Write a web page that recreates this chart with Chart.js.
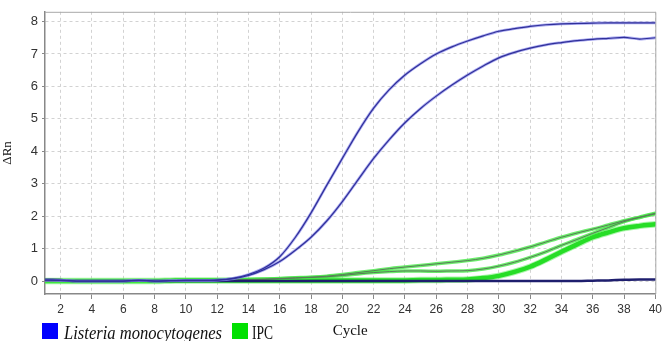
<!DOCTYPE html>
<html><head><meta charset="utf-8">
<script src="https://cdn.jsdelivr.net/npm/chart.js@4/dist/chart.umd.min.js"></script>
<style>
html,body{margin:0;padding:0;background:#fff;}
#wrap{position:relative;width:665px;height:341px;overflow:hidden;}
canvas{position:absolute;left:0;top:0;}
.leg{position:absolute;font-family:'Liberation Serif','Times New Roman',serif;font-size:18px;line-height:18px;color:#111;white-space:nowrap;transform-origin:0 0;}
.sw{position:absolute;}
</style></head><body>
<div id="wrap"><canvas id="c" width="665" height="341"></canvas>
<div class="sw" style="left:42px;top:323px;width:16px;height:16px;background:#0000ff"></div>
<div class="leg" id="l1" style="left:64px;top:324px;font-style:italic">Listeria monocytogenes</div>
<div class="sw" style="left:232px;top:323px;width:16px;height:16px;background:#00e000"></div>
<div class="leg" id="l2" style="left:252px;top:324px">IPC</div>
</div>
<script>
const cycles = [1,2,3,4,5,6,7,8,9,10,11,12,13,14,15,16,17,18,19,20,21,22,23,24,25,26,27,28,29,30,31,32,33,34,35,36,37,38,39,40];
const xTicks = [2,4,6,8,10,12,14,16,18,20,22,24,26,28,30,32,34,36,38,40];
const yTicks = [0,1,2,3,4,5,6,7,8];
const seriesNames = ['Listeria monocytogenes','IPC'];

const listeriaA = [0.03,0.02,0.0,0.0,0.0,0.0,0.02,0.0,0.01,0.02,0.02,0.03,0.08,0.2,0.4,0.75,1.35,2.1,2.95,3.78,4.6,5.33,5.9,6.35,6.7,7.0,7.22,7.4,7.56,7.7,7.78,7.85,7.9,7.93,7.94,7.95,7.96,7.96,7.96,7.96];
const listeriaB = [0.03,0.02,0.0,0.0,0.0,0.0,0.02,0.0,0.01,0.02,0.02,0.03,0.07,0.17,0.35,0.6,0.95,1.35,1.85,2.45,3.12,3.78,4.36,4.88,5.32,5.7,6.04,6.35,6.63,6.88,7.05,7.18,7.28,7.35,7.41,7.45,7.48,7.51,7.46,7.5];
const listeriaNeg = [0.04,0.03,0.0,0.0,0.0,0.0,0.02,0.0,0.0,0.0,0.0,0.0,0.0,0.0,0.0,0.0,0.0,0.0,0.0,0.0,0.0,0.0,0.0,0.0,0.0,0.0,0.0,0.0,0.0,0.0,0.0,0.0,0.0,0.0,0.0,0.01,0.02,0.04,0.05,0.05];
const ipcA = [0.0,0.0,0.0,0.0,0.0,0.0,0.0,0.0,0.0,0.0,0.01,0.02,0.03,0.05,0.06,0.08,0.1,0.12,0.15,0.2,0.26,0.32,0.38,0.43,0.48,0.53,0.58,0.63,0.7,0.8,0.92,1.05,1.2,1.35,1.48,1.6,1.73,1.86,1.97,2.09];
const ipcB = [0.0,0.0,0.0,0.0,0.0,0.0,0.0,0.0,0.0,0.01,0.01,0.01,0.02,0.04,0.05,0.07,0.09,0.11,0.13,0.17,0.22,0.26,0.29,0.31,0.31,0.3,0.31,0.32,0.37,0.46,0.58,0.73,0.9,1.1,1.28,1.47,1.65,1.83,1.96,2.07];
const ipcC = [0.0,0.0,0.0,0.0,0.0,0.0,0.0,0.0,0.01,0.02,0.02,0.02,0.02,0.02,0.02,0.02,0.02,0.02,0.02,0.02,0.02,0.02,0.02,0.02,0.03,0.03,0.04,0.05,0.09,0.16,0.28,0.44,0.66,0.9,1.13,1.35,1.5,1.63,1.7,1.75];

const pts = arr => cycles.map((c, i) => ({x: c, y: arr[i]}));
const line = (label, arr, color, width) => ({
  label, data: pts(arr), borderColor: color, backgroundColor: color, borderWidth: width,
  pointRadius: 0, fill: false, cubicInterpolationMode: 'monotone', borderCapStyle: 'round', borderJoinStyle: 'round'
});

// listed top-most first (Chart.js draws the first dataset on top)
const datasets = [
  line(seriesNames[0], listeriaA, '#30309a', 1.2),
  line(seriesNames[0], listeriaB, '#30309a', 1.2),
  line(seriesNames[0], listeriaA, 'rgba(125,125,232,0.65)', 2.8),
  line(seriesNames[0], listeriaB, 'rgba(125,125,232,0.65)', 2.8),
  line(seriesNames[0], listeriaNeg, '#1e1e6e', 2.5),
  line(seriesNames[1], ipcA, '#5a7a5a', 1),
  line(seriesNames[1], ipcB, '#5a7a5a', 1),
  line(seriesNames[1], ipcA, 'rgba(70,232,70,0.8)', 3.5),
  line(seriesNames[1], ipcB, 'rgba(70,232,70,0.8)', 3.5),
  line(seriesNames[1], ipcC, '#26dd26', 4.5),
  line(seriesNames[1], ipcC, 'rgba(100,238,100,0.55)', 6.5)
];

const tickFont = {family: "'Liberation Sans Narrow','Arial Narrow','Liberation Sans',Arial,sans-serif", size: 12};
const titleFont = {family: "'Liberation Serif','Times New Roman',serif", size: 15};

const frame = {
  id: 'frame',
  beforeDatasetsDraw(chart) {
    const a = chart.chartArea, ctx = chart.ctx;
    ctx.save();
    ctx.strokeStyle = '#a8a8a8';
    ctx.lineWidth = 1;
    ctx.beginPath();
    ctx.moveTo(a.left, a.top + 0.5);
    ctx.lineTo(a.right + 0.5, a.top + 0.5);
    ctx.lineTo(a.right + 0.5, a.bottom);
    ctx.stroke();
    ctx.restore();
  }
};

new Chart(document.getElementById('c'), {
  type: 'line',
  data: {datasets},
  plugins: [frame],
  options: {
    responsive: false,
    animation: false,
    devicePixelRatio: 1,
    layout: {padding: {top: 11, right: 5, left: 0, bottom: 0}},
    plugins: {legend: {display: false}, tooltip: {enabled: false}},
    scales: {
      x: {
        type: 'linear', min: 1, max: 40,
        afterBuildTicks: s => { s.ticks = xTicks.map(v => ({value: v})); },
        afterFit: s => { s.height = 47; },
        ticks: {font: tickFont, color: '#333', padding: 3, maxRotation: 0, autoSkip: false},
        grid: {color: '#d2d2d2', lineWidth: 1, tickColor: '#888', tickLength: 5, tickBorderDash: []},
        border: {color: '#888', width: 1.5, dash: [3, 3]},
        title: {display: true, text: 'Cycle', font: titleFont, color: '#111', padding: {top: 0, bottom: 1}}
      },
      y: {
        type: 'linear', min: -0.4, max: 8.3,
        afterBuildTicks: s => { s.ticks = yTicks.map(v => ({value: v})); },
        afterFit: s => { s.width = 45; },
        ticks: {font: {family: tickFont.family, size: 13}, color: '#333', padding: 4},
        grid: {color: '#d2d2d2', lineWidth: 1, tickColor: '#888', tickLength: 3, tickBorderDash: []},
        border: {color: '#888', width: 1.5, dash: [3, 3]},
        title: {display: true, text: 'ΔRn', font: {family: titleFont.family, size: 13}, color: '#111', padding: {top: 0, bottom: 0}}
      }
    }
  }
});

function fitWidth(id, w) {
  const el = document.getElementById(id);
  const r = el.getBoundingClientRect().width;
  if (r > 0) el.style.transform = 'scaleX(' + (w / r) + ')';
}
fitWidth('l1', 158);
fitWidth('l2', 21);
</script>
</body></html>
